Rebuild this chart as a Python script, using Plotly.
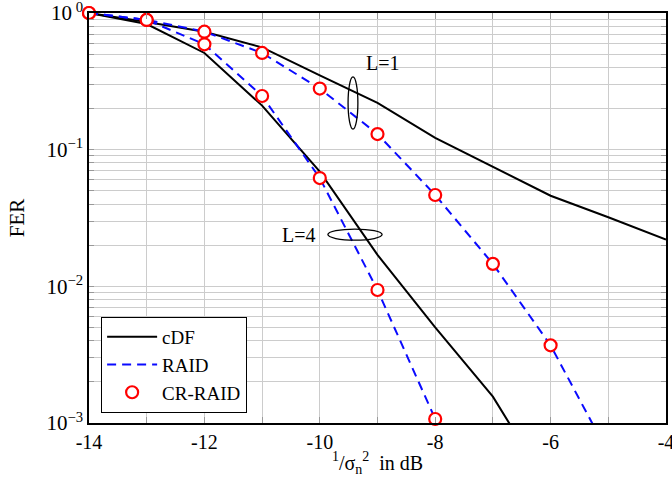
import plotly.graph_objects as go

snr = [-14, -13, -12, -11, -10, -9, -8, -7, -6, -5, -4]

# L = 1
cdf_l1 = [1.0, 0.86, 0.73, 0.56, 0.35, 0.22, 0.122, 0.075, 0.046, 0.032, 0.022]
raid_l1_x = [-14, -13, -12, -11, -10, -9, -8, -7, -6, -5]
raid_l1 = [1.0, 0.89, 0.73, 0.51, 0.28, 0.130, 0.0466, 0.0146, 0.0037, 0.0006]
cr_l1_x = [-14, -13, -12, -11, -10, -9, -8, -7, -6]
cr_l1 = [1.0, 0.89, 0.73, 0.51, 0.28, 0.130, 0.0466, 0.0146, 0.0037]

# L = 4
cdf_l4_x = [-14, -13, -12, -11, -10, -9, -8, -7, -6]
cdf_l4 = [1.0, 0.83, 0.51, 0.21, 0.069, 0.017, 0.0050, 0.00156, 0.00032]
raid_l4_x = [-14, -13, -12, -11, -10, -9, -8, -7]
raid_l4 = [1.0, 0.89, 0.59, 0.247, 0.062, 0.0094, 0.00107, 0.0001]
cr_l4_x = [-14, -13, -12, -11, -10, -9, -8]
cr_l4 = [1.0, 0.89, 0.59, 0.247, 0.062, 0.0094, 0.00107]

font_family = "Liberation Serif"

fig = go.Figure()
line_black = dict(color="black", width=2)
line_blue = dict(color="#0a0aff", width=2, dash="9px,6px")
mk = dict(symbol="circle", size=12, color="white", line=dict(color="red", width=2.2))

fig.add_trace(go.Scatter(x=snr, y=cdf_l1, mode="lines", line=line_black, name="cDF"))
fig.add_trace(go.Scatter(x=cdf_l4_x, y=cdf_l4, mode="lines", line=line_black, showlegend=False))
fig.add_trace(go.Scatter(x=raid_l1_x, y=raid_l1, mode="lines", line=line_blue, name="RAID"))
fig.add_trace(go.Scatter(x=raid_l4_x, y=raid_l4, mode="lines", line=line_blue, showlegend=False))
fig.add_trace(go.Scatter(x=cr_l1_x, y=cr_l1, mode="markers", marker=mk, name="CR-RAID", cliponaxis=False))
fig.add_trace(go.Scatter(x=cr_l4_x, y=cr_l4, mode="markers", marker=mk, showlegend=False, cliponaxis=False))

# y ticks
yvals, ytext = [], []
for e in [-3, -2, -1]:
    for m in range(1, 10):
        yvals.append(m * 10 ** e)
        ytext.append({-3: "10<sup>−3</sup>", -2: "10<sup>−2</sup>", -1: "10<sup>−1</sup>"}[e] if m == 1 else "")
yvals.append(1.0)
ytext.append("10<sup> 0</sup>")

xvals = list(range(-14, -3))
xtext = [str(v) if v % 2 == 0 else "" for v in xvals]

fig.update_layout(
    width=672, height=477,
    margin=dict(l=89, r=6, t=13, b=54, autoexpand=False),
    paper_bgcolor="white", plot_bgcolor="white",
    font=dict(family=font_family, size=20, color="black"),
    showlegend=True,
    legend=dict(x=0.021, y=0.2585, xanchor="left", yanchor="top",
                bgcolor="white", bordercolor="black", borderwidth=1,
                font=dict(family=font_family, size=19), tracegroupgap=0,
                itemwidth=50),
    xaxis=dict(range=[-14, -4], tickvals=xvals, ticktext=xtext, automargin=False,
               ticklabeloverflow="allow",
               showgrid=True, gridcolor="#cccccc", gridwidth=1,
               ticks="inside", ticklen=6, tickcolor="#999999",
               tickfont=dict(size=20),
               showline=True, linecolor="black", linewidth=1.5, mirror="ticks",
               zeroline=False,
               title=dict(text="<sup>1</sup>/σ<sub>n</sub><sup>2</sup>  in dB", standoff=0,
                          font=dict(size=20))),
    yaxis=dict(type="log", range=[-3, 0], tickvals=yvals, ticktext=ytext, automargin=False,
               ticklabeloverflow="allow",
               showgrid=True, gridcolor="#cccccc", gridwidth=1,
               ticks="inside", ticklen=5, tickcolor="#999999",
               tickfont=dict(size=21),
               showline=True, linecolor="black", linewidth=1.5, mirror="ticks",
               zeroline=False,
               title=dict(text="FER", standoff=16, font=dict(size=21))),
)

fig.add_annotation(x=-8.9, y=-0.366, xref="x", yref="y", text="L=1", showarrow=False,
                   font=dict(size=20))
fig.add_annotation(x=-10.03, y=-1.624, xref="x", yref="y", text="L=4", showarrow=False,
                   xanchor="right", font=dict(size=20))

fig.add_shape(type="circle", xref="paper", yref="paper", x0=0.449, x1=0.466, y0=0.717, y1=0.844,
              line=dict(color="black", width=1.3))
fig.add_shape(type="circle", xref="paper", yref="paper", x0=0.414, x1=0.508, y0=0.446, y1=0.473,
              line=dict(color="black", width=1.3))

fig.write_html("out.html", config={"displayModeBar": False},
               post_script="document.body.style.margin='0px';")
